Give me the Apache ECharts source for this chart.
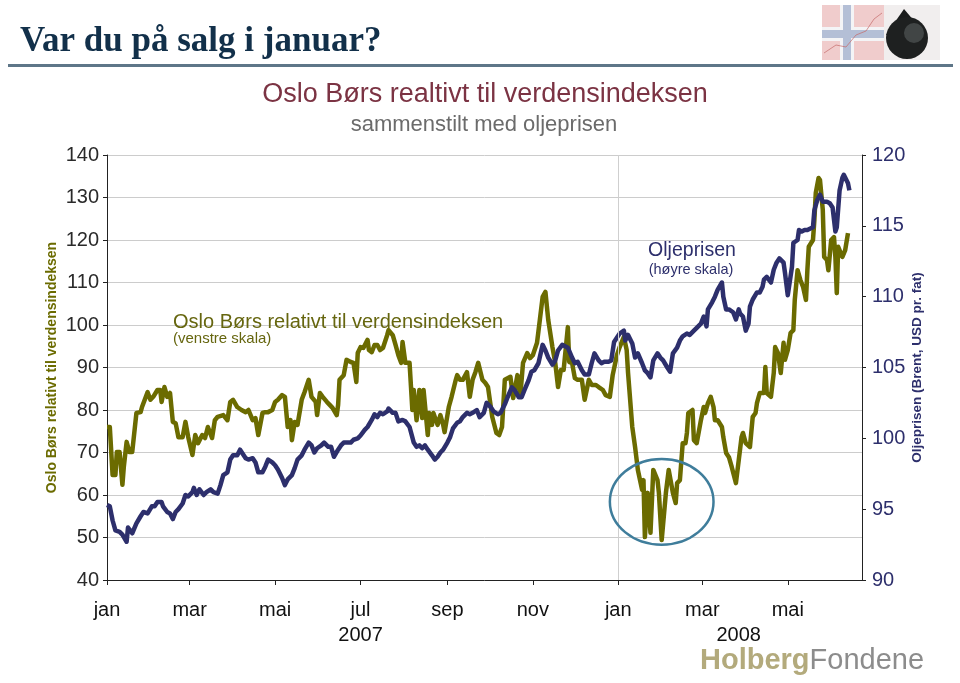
<!DOCTYPE html>
<html><head><meta charset="utf-8">
<script src="https://cdn.jsdelivr.net/npm/echarts@6/dist/echarts.min.js"></script>
<style>html,body{margin:0;padding:0;background:#fff}#c{width:960px;height:683px}</style>
</head><body><div id="c"></div>
<script>
// Oslo Børs relativt til verdensindeksen (venstre skala)
const olDates = [
'2007-01-01','2007-01-03','2007-01-05','2007-01-07','2007-01-08','2007-01-10','2007-01-12','2007-01-13','2007-01-15','2007-01-17',
'2007-01-19','2007-01-22','2007-01-25','2007-01-26','2007-01-30','2007-02-01','2007-02-03','2007-02-06','2007-02-08','2007-02-09',
'2007-02-11','2007-02-13','2007-02-15','2007-02-17','2007-02-19','2007-02-21','2007-02-24','2007-02-26','2007-02-28','2007-03-03',
'2007-03-05','2007-03-07','2007-03-10','2007-03-12','2007-03-14','2007-03-17','2007-03-19','2007-03-21','2007-03-25','2007-03-28',
'2007-03-30','2007-04-01','2007-04-04','2007-04-07','2007-04-10','2007-04-12','2007-04-15','2007-04-17','2007-04-19','2007-04-22',
'2007-04-24','2007-04-26','2007-04-29','2007-05-01','2007-05-03','2007-05-06','2007-05-08','2007-05-10','2007-05-12','2007-05-13',
'2007-05-15','2007-05-17','2007-05-20','2007-05-22','2007-05-25','2007-05-27','2007-05-30','2007-05-31','2007-06-02','2007-06-04',
'2007-06-07','2007-06-09','2007-06-11','2007-06-14','2007-06-15','2007-06-16','2007-06-19','2007-06-21','2007-06-24','2007-06-26',
'2007-06-28','2007-06-29','2007-07-01','2007-07-03','2007-07-06','2007-07-07','2007-07-09','2007-07-11','2007-07-13','2007-07-15',
'2007-07-17','2007-07-20','2007-07-21','2007-07-24','2007-07-26','2007-07-28','2007-07-30','2007-07-31','2007-08-02','2007-08-05',
'2007-08-07','2007-08-08','2007-08-10','2007-08-12','2007-08-14','2007-08-15','2007-08-18','2007-08-19','2007-08-21','2007-08-22',
'2007-08-25','2007-08-27','2007-08-29','2007-08-30','2007-09-02','2007-09-04','2007-09-07','2007-09-08','2007-09-10','2007-09-12',
'2007-09-15','2007-09-17','2007-09-19','2007-09-21','2007-09-23','2007-09-26','2007-09-28','2007-09-30','2007-10-03','2007-10-06',
'2007-10-08','2007-10-10','2007-10-12','2007-10-16','2007-10-18','2007-10-21','2007-10-23','2007-10-25','2007-10-28','2007-10-30',
'2007-11-01','2007-11-04','2007-11-06','2007-11-08','2007-11-10','2007-11-12','2007-11-15','2007-11-17','2007-11-19','2007-11-21',
'2007-11-23','2007-11-26','2007-11-27','2007-11-29','2007-12-01','2007-12-03','2007-12-06','2007-12-08','2007-12-11','2007-12-13',
'2007-12-16','2007-12-18','2007-12-21','2007-12-23','2007-12-26','2007-12-28','2007-12-31','2008-01-02','2008-01-05','2008-01-07',
'2008-01-08','2008-01-11','2008-01-13','2008-01-15','2008-01-18','2008-01-19','2008-01-20','2008-01-22','2008-01-24','2008-01-26',
'2008-01-29','2008-01-30','2008-02-01','2008-02-04','2008-02-06','2008-02-09','2008-02-11','2008-02-12','2008-02-14','2008-02-16',
'2008-02-18','2008-02-19','2008-02-20','2008-02-23','2008-02-24','2008-02-26','2008-02-29','2008-03-02','2008-03-03','2008-03-05',
'2008-03-07','2008-03-09','2008-03-10','2008-03-12','2008-03-15','2008-03-16','2008-03-18','2008-03-20','2008-03-22','2008-03-25',
'2008-03-27','2008-03-29','2008-03-30','2008-04-01','2008-04-04','2008-04-06','2008-04-08','2008-04-09','2008-04-11','2008-04-14',
'2008-04-15','2008-04-16','2008-04-19','2008-04-21','2008-04-22','2008-04-24','2008-04-26','2008-04-28','2008-04-29','2008-05-01',
'2008-05-03','2008-05-05','2008-05-06','2008-05-08','2008-05-10','2008-05-12','2008-05-14','2008-05-15','2008-05-16','2008-05-19',
'2008-05-20','2008-05-21','2008-05-23','2008-05-24','2008-05-26','2008-05-27','2008-05-29','2008-05-30','2008-06-01','2008-06-03',
'2008-06-04','2008-06-05','2008-06-06','2008-06-09','2008-06-11','2008-06-13'
];
const olValues = [
76.0,76.0,64.7,64.7,70.1,70.1,62.4,66.6,72.5,70.1,
70.1,79.3,79.5,80.7,84.2,82.4,83.1,84.7,84.7,81.9,
85.4,83.1,84.0,77.2,76.9,73.6,73.6,77.2,73.6,69.4,
74.1,72.2,74.1,73.4,76.0,73.4,77.6,78.4,78.8,77.6,
81.9,82.4,80.7,80.0,79.5,80.0,77.6,78.1,74.1,79.3,
79.5,79.5,80.0,81.9,82.4,83.5,83.1,76.0,77.6,72.9,
77.2,76.5,82.4,84.2,87.1,83.1,81.9,78.8,84.0,83.1,
81.9,81.2,80.5,78.8,81.2,87.1,88.2,91.8,91.3,91.1,
86.6,93.4,94.8,94.6,96.5,94.1,93.6,95.3,95.3,94.1,
94.6,97.6,98.8,97.6,95.3,92.9,91.1,96.0,91.1,91.1,
80.0,84.7,77.6,84.7,78.1,84.7,74.1,79.3,76.5,79.3,
76.5,78.8,76.5,74.8,80.7,83.1,87.1,88.2,87.1,87.1,
88.9,83.1,87.1,88.9,91.1,87.1,86.4,85.4,78.4,74.6,
74.1,76.0,87.1,87.8,82.8,88.2,83.1,91.1,93.4,92.2,
92.9,95.8,101.2,106.6,107.8,101.2,94.8,91.1,85.4,89.4,
89.4,99.5,91.3,91.1,87.5,87.1,87.1,82.4,87.1,85.9,
85.9,85.4,84.7,83.5,83.1,88.2,92.9,94.8,97.2,94.1,
88.7,76.0,71.3,65.9,61.2,63.5,50.1,60.5,51.1,65.9,
63.5,60.5,49.4,60.5,65.9,60.5,58.1,62.8,63.5,72.2,
72.2,74.6,79.3,80.0,72.9,72.2,77.6,80.7,79.3,81.6,
83.1,80.7,77.6,77.6,76.0,73.6,69.9,68.9,66.6,62.8,
68.2,73.6,74.6,72.2,71.3,78.4,79.3,81.6,84.0,84.0,
90.1,84.0,83.1,88.7,94.8,93.4,88.7,95.8,91.8,94.1,
98.1,98.8,105.9,112.9,110.6,108.9,105.9,112.9,118.4,120.0,
124.7,131.1,134.6,134.1,127.1,116.0,115.3,112.9,120.0,120.7,
116.0,107.5,118.4,116.0,117.6,121.6
];
// Oljeprisen (høyre skala)
const oilDates = [
'2007-01-01','2007-01-03','2007-01-05','2007-01-07','2007-01-10','2007-01-12','2007-01-15','2007-01-16','2007-01-19','2007-01-20',
'2007-01-22','2007-01-25','2007-01-27','2007-01-30','2007-01-31','2007-02-02','2007-02-04','2007-02-06','2007-02-09','2007-02-10',
'2007-02-13','2007-02-15','2007-02-17','2007-02-19','2007-02-21','2007-02-24','2007-02-26','2007-02-28','2007-03-03','2007-03-04',
'2007-03-06','2007-03-08','2007-03-11','2007-03-13','2007-03-16','2007-03-18','2007-03-21','2007-03-23','2007-03-25','2007-03-28',
'2007-03-30','2007-04-01','2007-04-04','2007-04-06','2007-04-07','2007-04-10','2007-04-12','2007-04-15','2007-04-17','2007-04-19',
'2007-04-22','2007-04-24','2007-04-26','2007-04-29','2007-05-01','2007-05-03','2007-05-06','2007-05-08','2007-05-10','2007-05-13',
'2007-05-15','2007-05-17','2007-05-20','2007-05-22','2007-05-25','2007-05-27','2007-05-29','2007-05-31','2007-06-03','2007-06-05',
'2007-06-08','2007-06-10','2007-06-12','2007-06-15','2007-06-17','2007-06-19','2007-06-22','2007-06-24','2007-06-26','2007-06-29',
'2007-07-01','2007-07-04','2007-07-06','2007-07-09','2007-07-11','2007-07-13','2007-07-15','2007-07-17','2007-07-20','2007-07-21',
'2007-07-24','2007-07-26','2007-07-28','2007-07-31','2007-08-02','2007-08-03','2007-08-05','2007-08-08','2007-08-10','2007-08-12',
'2007-08-14','2007-08-16','2007-08-18','2007-08-21','2007-08-23','2007-08-25','2007-08-27','2007-08-29','2007-09-01','2007-09-03',
'2007-09-05','2007-09-08','2007-09-10','2007-09-12','2007-09-15','2007-09-17','2007-09-19','2007-09-22','2007-09-24','2007-09-27',
'2007-09-29','2007-10-02','2007-10-04','2007-10-07','2007-10-09','2007-10-10','2007-10-12','2007-10-14','2007-10-17','2007-10-19',
'2007-10-22','2007-10-24','2007-10-26','2007-10-29','2007-10-31','2007-11-02','2007-11-05','2007-11-08','2007-11-10','2007-11-12',
'2007-11-15','2007-11-17','2007-11-19','2007-11-22','2007-11-24','2007-11-26','2007-11-29','2007-12-01','2007-12-03','2007-12-06',
'2007-12-08','2007-12-11','2007-12-13','2007-12-15','2007-12-18','2007-12-20','2007-12-22','2007-12-25','2007-12-27','2007-12-29',
'2007-12-31','2008-01-02','2008-01-05','2008-01-06','2008-01-08','2008-01-11','2008-01-13','2008-01-15','2008-01-18','2008-01-20',
'2008-01-22','2008-01-24','2008-01-26','2008-01-29','2008-01-31','2008-02-02','2008-02-05','2008-02-07','2008-02-09','2008-02-12',
'2008-02-14','2008-02-16','2008-02-19','2008-02-21','2008-02-24','2008-02-26','2008-02-29','2008-03-02','2008-03-04','2008-03-05',
'2008-03-08','2008-03-10','2008-03-12','2008-03-15','2008-03-16','2008-03-18','2008-03-20','2008-03-23','2008-03-25','2008-03-27',
'2008-03-28','2008-03-30','2008-04-01','2008-04-03','2008-04-04','2008-04-06','2008-04-09','2008-04-11','2008-04-13','2008-04-14',
'2008-04-16','2008-04-19','2008-04-21','2008-04-23','2008-04-25','2008-04-28','2008-04-29','2008-05-01','2008-05-04','2008-05-05',
'2008-05-08','2008-05-09','2008-05-11','2008-05-13','2008-05-15','2008-05-16','2008-05-19','2008-05-20','2008-05-22','2008-05-24',
'2008-05-26','2008-05-29','2008-05-31','2008-06-02','2008-06-04','2008-06-05','2008-06-07','2008-06-09','2008-06-10','2008-06-13',
'2008-06-14'
];
const oilValues = [
95.3,95.2,94.2,93.5,93.4,93.2,92.7,93.7,93.3,93.2,
94.0,94.5,94.8,94.7,94.6,95.2,95.2,95.5,95.5,95.2,
94.8,94.7,94.3,94.8,95.0,95.4,96.0,95.9,96.2,96.5,
96.0,96.4,96.0,96.2,96.4,96.2,96.1,96.7,97.4,97.6,
98.5,98.8,98.8,99.2,99.2,98.6,98.5,98.6,98.3,97.6,
97.6,98.0,98.5,98.3,98.1,97.8,97.2,96.7,97.1,97.4,
97.9,98.5,98.8,99.2,99.7,99.5,99.0,99.3,99.5,99.7,
99.4,99.4,98.7,99.2,99.5,99.7,99.7,99.7,99.9,100.0,
100.2,100.6,100.8,101.3,101.7,101.5,101.8,101.7,101.9,102.1,
101.8,101.8,101.2,101.3,101.2,101.3,100.8,99.7,99.4,99.5,
99.3,99.5,99.2,98.8,98.5,98.7,99.0,99.2,99.7,100.1,
100.7,101.1,101.2,101.5,101.8,101.7,101.8,102.0,101.5,101.8,
102.5,102.2,101.9,101.7,101.8,101.7,102.4,102.9,103.6,103.4,
102.9,102.9,103.4,104.1,104.7,104.8,105.3,106.6,106.2,105.7,
105.2,105.5,106.2,106.6,106.5,106.4,105.7,105.3,105.4,104.8,
104.5,104.5,105.3,106.0,105.5,105.3,105.4,105.4,105.5,106.8,
107.1,107.4,107.6,106.9,107.3,106.7,105.7,106.0,105.3,104.8,
104.6,104.3,105.5,106.0,105.7,105.5,105.0,104.7,106.0,106.4,
106.9,107.2,107.4,107.3,107.6,107.8,108.1,108.6,107.9,109.1,
109.6,110.0,110.5,111.0,110.0,109.1,109.1,108.9,108.4,109.1,
108.8,108.6,107.6,108.1,109.3,109.8,110.3,110.3,110.7,111.2,
111.4,111.0,111.9,112.4,112.7,112.4,111.7,110.1,112.1,113.8,
114.0,114.7,114.6,114.7,114.7,114.8,114.9,116.1,116.8,117.2,
116.7,116.7,116.6,116.3,114.6,114.9,117.5,118.4,118.6,118.0,
117.5
];
// x-axis ticks and labels
const tickDates = ['2007-01-01','2007-03-01','2007-05-01','2007-07-01','2007-09-01','2007-11-01','2008-01-01','2008-03-01','2008-05-01'];
const tickLabels = ['jan','mar','mai','jul\n2007','sep','nov','jan','mar','mai'];
const yearLabelDates = ['2008-03-27'];
const yearLabels = ['\n2008'];
const xStart = '2007-01-01', xEnd = '2008-06-23';
const yearDivider = '2008-01-01';
const leftTicks = {min: 40, max: 140, interval: 10};
const rightTicks = {min: 90, max: 120, interval: 5};
const circleCenter = {date: '2008-02-01', value: 58.4, halfDays: 37, halfValue: 10.1};

const T = s => Date.parse(s);
const labelMap = {};
tickDates.forEach((d, i) => labelMap[T(d)] = tickLabels[i]);
yearLabelDates.forEach((d, i) => labelMap[T(d)] = yearLabels[i]);

const SANS = '"Liberation Sans", Arial, sans-serif';
const OLIVE = '#6b6b00', NAVY = '#2d2f6c';

const chart = echarts.init(document.getElementById('c'), null, {renderer: 'canvas'});
chart.setOption({
  animation: false,
  backgroundColor: '#fff',
  grid: {left: 107, right: 98, top: 155, bottom: 103},
  xAxis: {
    type: 'value', min: T(xStart), max: T(xEnd),
    axisLine: {show: true, onZero: false, lineStyle: {color: '#222', width: 1}},
    axisTick: {show: true, customValues: tickDates.map(T), length: 5, inside: false, lineStyle: {color: '#222'}},
    axisLabel: {
      customValues: tickDates.map(T).concat(yearLabelDates.map(T)),
      formatter: v => labelMap[v] || '',
      fontSize: 20, color: '#111', fontFamily: SANS, margin: 18, lineHeight: 25
    },
    splitLine: {show: false}
  },
  yAxis: [{
    type: 'value', position: 'left', min: leftTicks.min, max: leftTicks.max, interval: leftTicks.interval,
    axisLine: {show: true, lineStyle: {color: '#222'}},
    axisTick: {show: true, length: 4, lineStyle: {color: '#222'}},
    axisLabel: {fontSize: 20, color: '#2a2a2a', fontFamily: SANS, margin: 8},
    splitLine: {show: true, lineStyle: {color: '#cccccc', width: 1}},
    name: 'Oslo Børs relativt til verdensindeksen', nameLocation: 'middle', nameRotate: 90, nameGap: 48,
    nameMoveOverlap: false,
    nameTextStyle: {color: OLIVE, fontWeight: 'bold', fontSize: 14, fontFamily: SANS}
  }, {
    type: 'value', position: 'right', min: rightTicks.min, max: rightTicks.max, interval: rightTicks.interval,
    axisLine: {show: true, lineStyle: {color: '#222'}},
    axisTick: {show: true, length: 4, lineStyle: {color: '#222'}},
    axisLabel: {fontSize: 20, color: NAVY, fontFamily: SANS, margin: 10},
    splitLine: {show: false},
    name: 'Oljeprisen (Brent, USD pr. fat)', nameLocation: 'middle', nameRotate: 90, nameGap: 48,
    nameMoveOverlap: false,
    nameTextStyle: {color: NAVY, fontWeight: 'bold', fontSize: 13.5, fontFamily: SANS}
  }],
  series: [{
    name: 'Oslo Børs', type: 'line', yAxisIndex: 0, showSymbol: false, z: 2,
    data: olDates.map((d, i) => [T(d), olValues[i]]),
    lineStyle: {color: OLIVE, width: 4.5, join: 'round'},
    markLine: {silent: true, symbol: 'none', label: {show: false},
      lineStyle: {color: '#cfcfcf', width: 1, type: 'solid'},
      data: [{xAxis: T(yearDivider)}]}
  }, {
    name: 'Oljeprisen', type: 'line', yAxisIndex: 1, showSymbol: false, z: 3,
    data: oilDates.map((d, i) => [T(d), oilValues[i]]),
    lineStyle: {color: NAVY, width: 4.5, join: 'round'}
  }]
});

const c0 = chart.convertToPixel({xAxisIndex: 0, yAxisIndex: 0}, [T(circleCenter.date), circleCenter.value]);
const c1 = chart.convertToPixel({xAxisIndex: 0, yAxisIndex: 0},
  [T(circleCenter.date) + circleCenter.halfDays * 86400000, circleCenter.value + circleCenter.halfValue]);

chart.setOption({
  graphic: [
    {type: 'text', left: 20, top: 24, style: {text: 'Var du på salg i januar?', font: 'bold 35px "Liberation Serif", serif', fill: '#12304a'}},
    {type: 'rect', shape: {x: 8, y: 64, width: 945, height: 3}, style: {fill: '#5e7688'}},
    // logo
    {type: 'group', x: 822, y: 5, children: [
      {type: 'rect', shape: {x: 0, y: 0, width: 118, height: 55}, style: {fill: '#f1eeee'}},
      {type: 'rect', shape: {x: 0, y: 0, width: 62, height: 55}, style: {fill: '#f0cccc'}},
      {type: 'rect', shape: {x: 18, y: 0, width: 14, height: 55}, style: {fill: '#f4f4f6'}},
      {type: 'rect', shape: {x: 0, y: 22, width: 62, height: 14}, style: {fill: '#f4f4f6'}},
      {type: 'rect', shape: {x: 21, y: 0, width: 8, height: 55}, style: {fill: '#b4bfd6'}},
      {type: 'rect', shape: {x: 0, y: 25, width: 62, height: 8}, style: {fill: '#b4bfd6'}},
      {type: 'polyline', shape: {points: [[2, 48], [14, 40], [24, 42], [34, 30], [44, 26], [52, 14], [60, 8]]}, style: {stroke: '#c46a6a', lineWidth: 1, fill: 'none', opacity: 0.7}},
      {type: 'polygon', shape: {points: [[82, 4], [64, 30], [104, 30]]}, style: {fill: '#1a1c1c'}},
      {type: 'circle', shape: {cx: 85, cy: 33, r: 21}, style: {fill: '#1e2020'}},
      {type: 'circle', shape: {cx: 92, cy: 28, r: 10}, style: {fill: '#5f6464', opacity: 0.55}}
    ]},
    {type: 'text', style: {text: 'Oslo Børs realtivt til verdensindeksen', x: 485, y: 95, textAlign: 'center', textVerticalAlign: 'middle', font: '27px ' + SANS, fill: '#7b3343'}},
    {type: 'text', style: {text: 'sammenstilt med oljeprisen', x: 484, y: 125, textAlign: 'center', textVerticalAlign: 'middle', font: '22px ' + SANS, fill: '#6b6b6b'}},
    {type: 'text', z: 10, style: {text: 'Oslo Børs relativt til verdensindeksen', x: 173, y: 322, textVerticalAlign: 'middle', font: '20px ' + SANS, fill: '#66660f'}},
    {type: 'text', z: 10, style: {text: '(venstre skala)', x: 173, y: 339, textVerticalAlign: 'middle', font: '15px ' + SANS, fill: '#66660f'}},
    {type: 'text', z: 10, style: {text: 'Oljeprisen', x: 692, y: 251, textAlign: 'center', textVerticalAlign: 'middle', font: '19.5px ' + SANS, fill: NAVY}},
    {type: 'text', z: 10, style: {text: '(høyre skala)', x: 691, y: 270, textAlign: 'center', textVerticalAlign: 'middle', font: '14.5px ' + SANS, fill: NAVY}},
    {type: 'ellipse', z: 10, shape: {cx: c0[0], cy: c0[1], rx: Math.abs(c1[0] - c0[0]), ry: Math.abs(c1[1] - c0[1])},
      style: {fill: 'none', stroke: '#3f7d9b', lineWidth: 2.5}},
    {type: 'text', style: {text: '{a|Holberg}{b|Fondene}', x: 700, y: 661, textVerticalAlign: 'middle',
      rich: {a: {fontFamily: SANS, fontWeight: 'bold', fontSize: 29, fill: '#b3aa7c', color: '#b3aa7c'},
             b: {fontFamily: SANS, fontSize: 29, fill: '#8c8c8c', color: '#8c8c8c'}}}}
  ]
});
</script>
</body></html>
